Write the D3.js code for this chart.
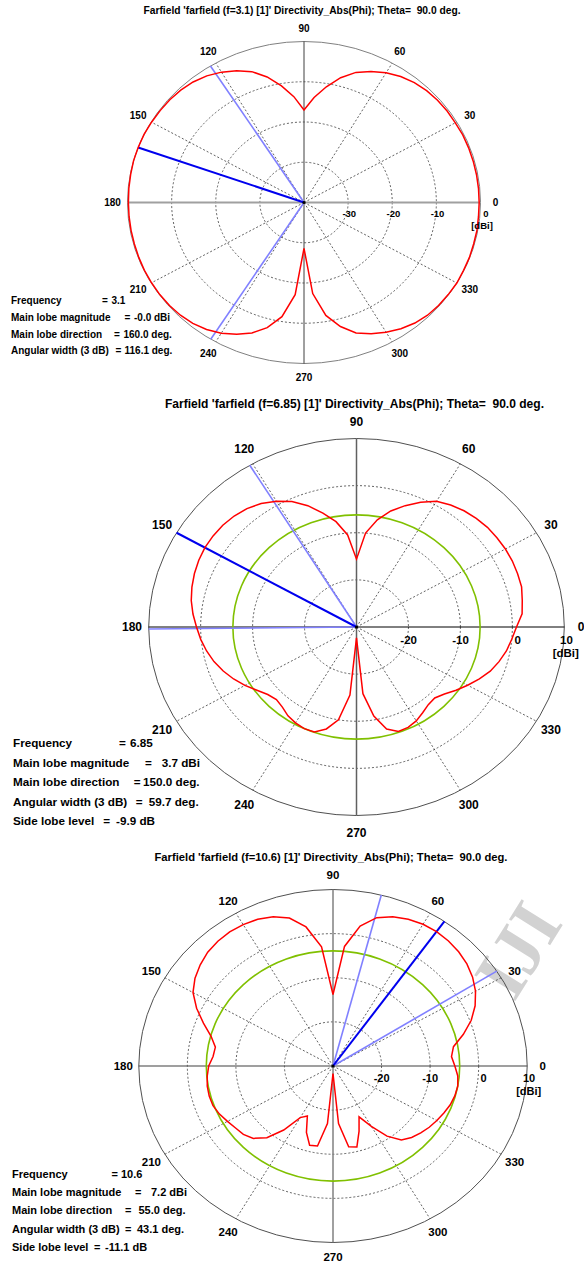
<!DOCTYPE html>
<html><head><meta charset="utf-8">
<script src="https://cdn.jsdelivr.net/npm/d3@7/dist/d3.min.js"></script>
<style>
body{margin:0;background:#fff}
svg{display:block}
text{font-family:"Liberation Sans",Arial,sans-serif;font-weight:bold;fill:#000}
</style>
</head><body>
<svg id="c" width="584" height="1264"></svg>
<script>
// ---- DATA ----
const phiDeg = [0,5,10,15,20,25,30,35,40,45,50,55,60,65,70,75,80,85,90,95,100,105,110,115,120,125,130,135,140,145,150,155,160,165,170,175,
  180,185,190,195,200,205,210,215,220,225,230,235,240,245,250,255,260,265,270,275,280,285,290,295,300,305,310,315,320,325,330,335,340,345,350,355];

const dir31 = [-0.3,-0.3,-0.3,-0.3,-0.3,-0.3,-0.4,-0.4,-0.5,-0.7,-1.1,-1.8,-2.8,-4.1,-5.6,-7.9,-10.8,-13.8,-17.0,-13.6,-10.6,-7.7,-5.4,-3.9,-2.6,-1.6,-0.9,-0.5,-0.3,-0.2,-0.1,0.0,0.0,0.0,-0.1,-0.15,
  -0.2,-0.2,-0.2,-0.2,-0.15,-0.1,-0.1,-0.1,-0.2,-0.4,-0.8,-1.5,-2.5,-3.9,-5.5,-7.8,-11.2,-17.0,-28.6,-17.3,-11.5,-8.1,-5.5,-4.0,-2.8,-1.7,-0.9,-0.4,-0.2,-0.1,0.0,-0.1,-0.1,-0.2,-0.2,-0.3];

const dir685 = [0.8,2.0,2.4,2.9,3.0,3.1,3.1,3.0,2.9,2.6,2.2,1.6,0.8,-0.8,-2.6,-4.5,-6.9,-10.0,-15.6,-10.4,-7.3,-5.0,-2.6,-0.6,0.8,2.0,2.8,3.3,3.6,3.7,3.7,3.5,3.2,2.8,2.3,1.6,
  0.8,0.1,-0.7,-1.6,-2.7,-3.9,-5.2,-6.6,-7.7,-8.2,-7.8,-7.0,-6.5,-6.2,-6.3,-7.6,-10.0,-15.5,-27.7,-15.8,-10.8,-7.6,-6.4,-6.5,-7.0,-7.8,-8.5,-8.7,-7.9,-6.6,-5.3,-3.9,-2.6,-1.6,-0.7,0.0];

const dir106 = [-4.9,-5.5,-4.8,-2.2,0.3,2.3,3.9,5.1,6.0,6.6,7.0,7.2,7.1,6.7,6.0,4.8,2.2,-2.8,-13.8,-2.9,2.0,4.7,6.0,6.7,7.0,7.1,6.9,6.5,5.7,4.7,3.3,1.0,-1.6,-4.0,-5.4,-5.2,
  -4.4,-4.0,-3.7,-3.6,-3.7,-4.2,-4.9,-5.5,-5.9,-6.8,-8.8,-12.3,-16.5,-17.5,-14.0,-11.4,-11.6,-16.9,-28.3,-16.9,-11.4,-11.0,-14.3,-17.3,-14.2,-10.6,-8.1,-7.1,-6.4,-5.8,-5.3,-4.8,-4.3,-4.0,-3.9,-4.2];

const angleTicks = [0,30,60,90,120,150,180,210,240,270,300,330];
const ringTicks1 = [-30,-20,-10,0];
const ringTicks2 = [-20,-10,0,10];
const ringTicks3 = [-20,-10,0,10];

const titles = [
  "Farfield 'farfield (f=3.1) [1]' Directivity_Abs(Phi); Theta=  90.0 deg.",
  "Farfield 'farfield (f=6.85) [1]' Directivity_Abs(Phi); Theta=  90.0 deg.",
  "Farfield 'farfield (f=10.6) [1]' Directivity_Abs(Phi); Theta=  90.0 deg."
];

// main lobe direction, 3 dB beam edges, side-lobe circle (dBi)
const mainDir = [160.0, 150.0, 55.0];
const beamEdges = [[122.0, 238.1], [120.9, 180.6], [32.5, 75.6]];
const sideLobeLevel = [null, 3.7 - 9.9, 7.2 - 11.1];

const infoLabels1 = ["Frequency","Main lobe magnitude","Main lobe direction","Angular width (3 dB)"];
const infoValues1 = ["3.1","-0.0 dBi","160.0 deg.","116.1 deg."];
const infoLabels2 = ["Frequency","Main lobe magnitude","Main lobe direction","Angular width (3 dB)","Side lobe level"];
const infoValues2 = ["6.85","3.7 dBi","150.0 deg.","59.7 deg.","-9.9 dB"];
const infoLabels3 = ["Frequency","Main lobe magnitude","Main lobe direction","Angular width (3 dB)","Side lobe level"];
const infoValues3 = ["10.6","7.2 dBi","55.0 deg.","43.1 deg.","-11.1 dB"];

// ---- LAYOUT ----
const charts = [
  {title:titles[0], data:dir31, rings:ringTicks1, dbMin:-40, dbMax:0,
   cx:304, cy:202.5, rx:176.5, ry:161, titleY:14, titleW:317, titleFs:10,
   lblDx:15, lblDy:13.5, lblFs:10, ringFs:9.5, ringDy:11, dbiDy:23.2, ringEnd:8,
   outer:"#808080", hAxis:["#a0a0a0",2], vAxis:["#404040",1],
   main:mainDir[0], edges:beamEdges[0], sll:sideLobeLevel[0],
   info:{labels:infoLabels1, values:infoValues1, fs:10, x:11,
         eqX:[102,124.5,114,115.5], valX:[111.5,134,123.5,124.5], y:[304.3,321,337.6,354.3]}},
  {title:titles[1], data:dir685, rings:ringTicks2, dbMin:-30, dbMax:10,
   cx:356.5, cy:627, rx:207.8, ry:188.5, titleY:407.5, titleW:379, titleFs:12,
   lblDx:16.7, lblDy:17, lblFs:12, ringFs:11.5, ringDy:13, dbiDy:26.3, ringEnd:8.5,
   outer:"#505050", hAxis:["#000000",1], vAxis:["#606060",1.5],
   main:mainDir[1], edges:beamEdges[1], sll:sideLobeLevel[1],
   info:{labels:infoLabels2, values:infoValues2, fs:11.7, x:13,
         eqX:[119,145,133.8,135.7,103.3], valX:[130,161.7,143,148.7,116], y:[747,766.5,786,805.5,825]}},
  {title:titles[2], data:dir106, rings:ringTicks3, dbMin:-30, dbMax:10,
   cx:333, cy:1066, rx:194.2, ry:176.5, titleY:861, titleW:353, titleFs:11.5,
   lblDx:15.5, lblDy:14.5, lblFs:11.5, ringFs:11, ringDy:12.3, dbiDy:24.7, ringEnd:8,
   outer:"#505050", hAxis:["#404040",1.2], vAxis:["#808080",1.5],
   main:mainDir[2], edges:beamEdges[2], sll:sideLobeLevel[2],
   info:{labels:infoLabels3, values:infoValues3, fs:11, x:12,
         eqX:[111.5,135,125,125,94], valX:[121,151,138.5,137,105], y:[1178,1196,1214.4,1232.7,1250.7]}}
];

const svg = d3.select("#c");
const rad = d => d * Math.PI / 180;

// watermark (light grey, at the right edge of the third plot)
svg.append("text").attr("transform","translate(514,1003) rotate(-58)")
  .attr("font-size",74).style("font-family","'Liberation Serif',serif").style("fill","#d2d2d2")
  .text("IJI");

charts.forEach(c => {
  const g = svg.append("g");
  const sx = d3.scaleLinear().domain([c.dbMin, c.dbMax]).range([0, c.rx]);
  const sy = d3.scaleLinear().domain([c.dbMin, c.dbMax]).range([0, c.ry]);
  const px = (a, v) => c.cx + sx(v) * Math.cos(rad(a));
  const py = (a, v) => c.cy - sy(v) * Math.sin(rad(a));

  // dashed rings
  g.selectAll(".ring").data(c.rings.filter(t => t < c.dbMax)).join("ellipse")
    .attr("cx", c.cx).attr("cy", c.cy).attr("rx", d => sx(d)).attr("ry", d => sy(d))
    .attr("fill","none").attr("stroke","#3a3a3a").attr("stroke-width",0.8).attr("stroke-dasharray","2,2");
  // dashed radials
  g.selectAll(".rad").data(angleTicks.filter(a => a % 90 !== 0)).join("line")
    .attr("x1", c.cx).attr("y1", c.cy)
    .attr("x2", a => px(a, c.dbMax)).attr("y2", a => py(a, c.dbMax))
    .attr("stroke","#3a3a3a").attr("stroke-width",0.8).attr("stroke-dasharray","2,2");
  // outer circle
  g.append("ellipse").attr("cx", c.cx).attr("cy", c.cy).attr("rx", sx(c.dbMax)).attr("ry", sy(c.dbMax))
    .attr("fill","none").attr("stroke", c.outer).attr("stroke-width",1);
  // axes
  g.append("line").attr("x1", px(180, c.dbMax)).attr("x2", px(0, c.dbMax)).attr("y1", c.cy).attr("y2", c.cy)
    .attr("stroke", c.hAxis[0]).attr("stroke-width", c.hAxis[1]);
  g.append("line").attr("x1", c.cx).attr("x2", c.cx).attr("y1", py(90, c.dbMax)).attr("y2", py(270, c.dbMax))
    .attr("stroke", c.vAxis[0]).attr("stroke-width", c.vAxis[1]);

  // side lobe level circle
  if (c.sll !== null) {
    g.append("ellipse").attr("cx", c.cx).attr("cy", c.cy).attr("rx", sx(c.sll)).attr("ry", sy(c.sll))
      .attr("fill","none").attr("stroke","#80c000").attr("stroke-width",1.6);
  }
  // beam edges & main lobe
  g.selectAll(".edge").data(c.edges).join("line")
    .attr("x1", c.cx).attr("y1", c.cy).attr("x2", a => px(a, c.dbMax)).attr("y2", a => py(a, c.dbMax))
    .attr("stroke","#8080ff").attr("stroke-width",1.6);
  g.append("line").attr("x1", c.cx).attr("y1", c.cy).attr("x2", px(c.main, c.dbMax)).attr("y2", py(c.main, c.dbMax))
    .attr("stroke","#0000ee").attr("stroke-width",2);

  // pattern
  const pts = phiDeg.map((a, i) => [a, c.data[i]]);
  const line = d3.line().x(d => px(d[0], d[1])).y(d => py(d[0], d[1])).curve(d3.curveLinearClosed);
  g.append("path").attr("d", line(pts)).attr("fill","none").attr("stroke","#ff0000").attr("stroke-width",1.5);

  g.append("circle").attr("cx", c.cx).attr("cy", c.cy).attr("r",1.6).attr("fill","#000");

  // angle labels
  g.selectAll(".alab").data(angleTicks).join("text")
    .attr("x", a => c.cx + (c.rx + c.lblDx) * Math.cos(rad(a)))
    .attr("y", a => c.cy - (c.ry + c.lblDy) * Math.sin(rad(a)))
    .attr("dy","0.36em").attr("text-anchor","middle").attr("font-size", c.lblFs)
    .text(a => a);
  // ring labels
  g.selectAll(".rlab").data(c.rings).join("text")
    .attr("x", d => c.cx + sx(d) + c.ringEnd).attr("y", c.cy + c.ringDy)
    .attr("dy","0.36em").attr("text-anchor","end").attr("font-size", c.ringFs)
    .text(d => d);
  g.append("text").attr("x", c.cx + sx(c.dbMax) + 1.5).attr("y", c.cy + c.dbiDy)
    .attr("dy","0.36em").attr("text-anchor","middle").attr("font-size", c.ringFs).text("[dBi]");

  // title
  g.append("text").attr("x", c.cx - 2 - c.titleW / 2).attr("y", c.titleY)
    .attr("font-size", c.titleFs).attr("textLength", c.titleW).attr("lengthAdjust","spacingAndGlyphs")
    .style("white-space","pre").text(c.title);

  // info block
  const inf = c.info;
  inf.labels.forEach((lab, i) => {
    g.append("text").attr("x", inf.x).attr("y", inf.y[i]).attr("font-size", inf.fs).text(lab);
    g.append("text").attr("x", inf.eqX[i]).attr("y", inf.y[i]).attr("font-size", inf.fs).text("=");
    g.append("text").attr("x", inf.valX[i]).attr("y", inf.y[i]).attr("font-size", inf.fs).text(inf.values[i]);
  });
});
</script>
</body></html>
